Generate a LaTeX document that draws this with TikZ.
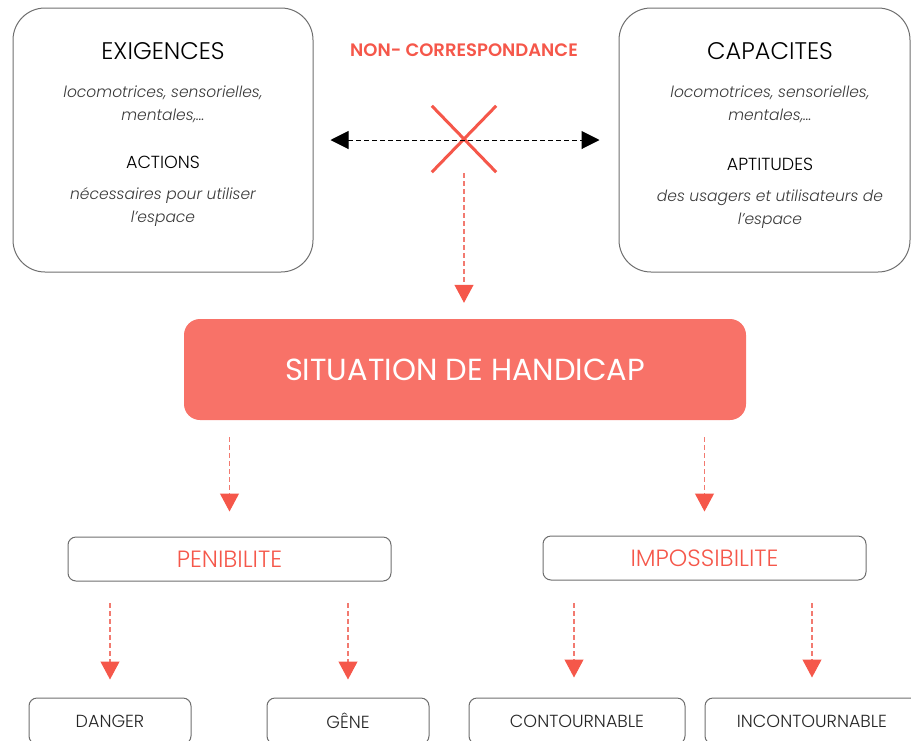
\documentclass[tikz,border=0pt]{standalone}
\usepackage{fontspec}
\setmainfont{Poppins}[UprightFont={* Light}, ItalicFont={* Light Italic}, BoldFont={* SemiBold}]
\newfontfamily\medfont{Poppins}
\usetikzlibrary{arrows.meta}
\definecolor{redc}{HTML}{F5574A}
\definecolor{dashred}{HTML}{F27A70}
\definecolor{salmon}{HTML}{F87268}
\definecolor{boxgrey}{HTML}{6E6E6E}
\definecolor{txtgrey}{HTML}{3A3A3A}
\begin{document}
\begin{tikzpicture}[x=1pt,y=-1pt,
  bigbox/.style={draw=boxgrey, line width=1pt, rounded corners=32pt, inner sep=0pt},
  smallbox/.style={draw=boxgrey, line width=1pt, rounded corners=8pt, inner sep=0pt, minimum height=44pt},
  headtxt/.style={font=\fontsize{24}{28}\selectfont, text=black},
  subhead/.style={font=\fontsize{17.5}{21}\selectfont, text=black},
  ittxt/.style={font=\fontsize{15.5}{23}\selectfont\itshape, text=txtgrey, align=center},
  redarrow/.style={draw=dashred, line width=1.1pt, dash pattern=on 5pt off 3pt, -{Triangle[width=19pt,length=18pt,fill=redc,color=redc]}},
  blackarrow/.style={draw=black, line width=1pt, dash pattern=on 5pt off 3pt, {Triangle[width=18pt,length=18pt]}-{Triangle[width=18pt,length=18pt]}},
  lowtxt/.style={font=\fontsize{17.5}{21}\selectfont, text=black!85},
  midtxt/.style={font=\fontsize{23.5}{27}\selectfont, text=redc}
]
\useasboundingbox (0,0) rectangle (911,740);

% top boxes
\node[bigbox, minimum width=300pt, minimum height=264pt] (exig) at (163,140) {};
\node[bigbox, minimum width=291pt, minimum height=264pt] (capa) at (764.5,140) {};

\node[headtxt] (t1) at (163,51) {EXIGENCES};
\node[ittxt] (t2) at (163,104) {locomotrices, sensorielles,\\ mentales,…};
\node[subhead] (t3) at (163,162) {ACTIONS};
\node[ittxt] (t4) at (163,207) {nécessaires pour utiliser\\ l’espace};

\node[headtxt] (t5) at (770,51) {CAPACITES};
\node[ittxt] (t6) at (770,104) {locomotrices, sensorielles,\\ mentales,…};
\node[subhead] (t7) at (770,164) {APTITUDES};
\node[ittxt] (t8) at (770,209) {des usagers et utilisateurs de\\ l’espace};

% non-correspondance
\node[font=\fontsize{18}{21}\selectfont\bfseries, text=redc] (nc) at (464,50) {NON- CORRESPONDANCE};
\node[minimum width=64pt, minimum height=66pt, inner sep=0pt] (cross) at (464,139) {};
\draw[redc, line width=3pt] (cross.north west) -- (cross.south east);
\draw[redc, line width=3pt] (cross.north east) -- (cross.south west);
\draw[blackarrow, shorten <=17pt, shorten >=19pt] (exig.east) -- (capa.west);

% situation
\node[fill=salmon, rounded corners=16pt, minimum width=562pt, minimum height=101pt, inner sep=0pt,
      font=\fontsize{30.5}{34}\selectfont\medfont, text=white] (sit) at (465,369.5) {SITUATION DE HANDICAP};
\draw[redarrow, shorten <=1pt, shorten >=16pt] (cross.south) -- (cross.south |- sit.north);

% middle boxes
\node[smallbox, minimum width=323pt, midtxt] (peni) at (229.5,559) {PENIBILITE};
\node[smallbox, minimum width=323pt, midtxt] (imp) at (704.5,558) {IMPOSSIBILITE};
\draw[redarrow, shorten <=17pt, shorten >=25pt] (peni.north |- sit.south) -- (peni.north);
\draw[redarrow, shorten <=17pt, shorten >=24pt] (imp.north |- sit.south) -- (imp.north);

% bottom boxes
\node[smallbox, minimum width=162pt, minimum height=46pt, lowtxt] (dang) at (110,721) {DANGER};
\node[smallbox, minimum width=162pt, minimum height=46pt, lowtxt] (gene) at (348,721) {GÊNE};
\node[smallbox, minimum width=216pt, minimum height=46pt, lowtxt] (cont) at (577,721) {CONTOURNABLE};
\node[smallbox, minimum width=214pt, minimum height=46pt, lowtxt] (incont) at (812,721) {INCONTOURNABLE};

\coordinate (a1) at (110,581);
\coordinate (a2) at (348,581);
\coordinate (a3) at (574,580);
\coordinate (a4) at (812,580);
\draw[redarrow, shorten <=22pt, shorten >=18pt] (a1) -- (dang.north);
\draw[redarrow, shorten <=22pt, shorten >=18pt] (a2) -- (gene.north);
\draw[redarrow, shorten <=23pt, shorten >=20pt] (a3) -- (a3 |- cont.north);
\draw[redarrow, shorten <=23pt, shorten >=20pt] (a4) -- (incont.north);
\end{tikzpicture}
\end{document}
